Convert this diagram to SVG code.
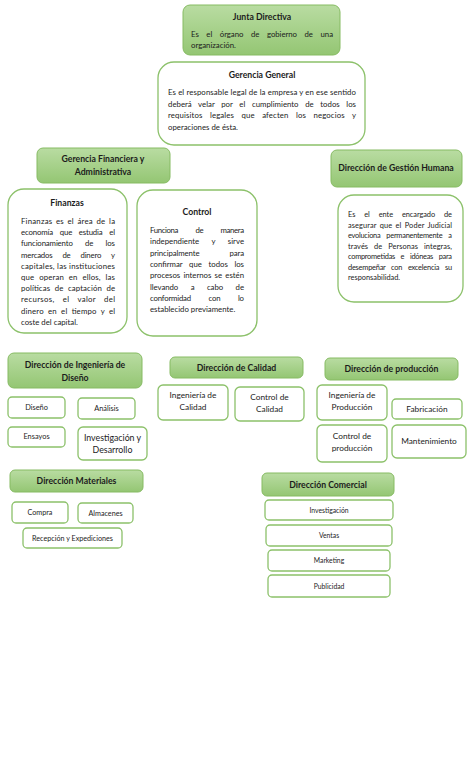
<svg xmlns="http://www.w3.org/2000/svg" width="474" height="780" viewBox="0 0 474 780">
<defs>
<linearGradient id="hg" x1="0" y1="0" x2="0" y2="1">
<stop offset="0" stop-color="#b9dca2"/>
<stop offset="1" stop-color="#94c673"/>
</linearGradient>
<style>
text{font-family:Lato,"Liberation Sans",sans-serif;fill:#1c1c1c;}
.hd{fill:url(#hg);stroke:#86bb63;stroke-width:1;}
.bx{fill:#ffffff;stroke:#8cc16a;stroke-width:1.3;}
.t{font-weight:bold;font-size:8.7px;text-anchor:middle;}
.b{font-size:7.8px;}
.s{font-size:7.4px;}
.sm{font-size:6.8px;text-anchor:middle;}
.sd{font-size:7.4px;text-anchor:middle;}
.sw{font-size:7.2px;text-anchor:middle;}
.md{font-size:8.3px;text-anchor:middle;}
.lg{font-size:8.8px;text-anchor:middle;}
</style>
</defs>
<rect width="474" height="780" fill="#ffffff"/>
<g id="connectors"></g>

<g id="junta">
<rect class="hd" x="183" y="5" width="157" height="50" rx="7"/>
<text class="t" x="262" y="20">Junta Directiva</text>
<text class="b" x="191" y="37" word-spacing="5.7" textLength="142" lengthAdjust="spacing">Es el órgano de gobierno de una</text>
<text class="b" x="191" y="48">organización.</text>
</g>

<g id="gerencia-general">
<rect class="bx" x="158" y="62" width="207" height="83" rx="16"/>
<text class="t" x="262" y="78">Gerencia General</text>
<text class="b" x="168" y="95" textLength="188" lengthAdjust="spacing">Es el responsable legal de la empresa y en ese sentido</text>
<text class="b" x="168" y="106.5" word-spacing="4.6" textLength="188" lengthAdjust="spacing">deberá velar por el cumplimiento de todos los</text>
<text class="b" x="168" y="118" word-spacing="5.3" textLength="188" lengthAdjust="spacing">requisitos legales que afecten los negocios y</text>
<text class="b" x="168" y="129.5">operaciones de ésta.</text>
</g>

<g id="gerencia-financiera">
<rect class="hd" x="37" y="148" width="133" height="35" rx="6"/>
<text class="t" x="103" y="162">Gerencia Financiera y</text>
<text class="t" x="103" y="175">Administrativa</text>
</g>

<g id="finanzas">
<rect class="bx" x="8" y="189" width="119" height="144" rx="16"/>
<text class="t" x="67" y="206">Finanzas</text>
<text class="b" x="21" y="224" word-spacing="1.4" textLength="94" lengthAdjust="spacing">Finanzas es el área de la</text>
<text class="b" x="21" y="235.2" word-spacing="4.7" textLength="94" lengthAdjust="spacing">economía que estudia el</text>
<text class="b" x="21" y="246.4" word-spacing="10.5" textLength="94" lengthAdjust="spacing">funcionamiento de los</text>
<text class="b" x="21" y="257.6" word-spacing="8.2" textLength="94" lengthAdjust="spacing">mercados de dinero y</text>
<text class="b" x="21" y="268.8" textLength="94" lengthAdjust="spacing">capitales, las instituciones</text>
<text class="b" x="21" y="280" word-spacing="2.7" textLength="94" lengthAdjust="spacing">que operan en ellos, las</text>
<text class="b" x="21" y="291.2" word-spacing="2.4" textLength="94" lengthAdjust="spacing">políticas de captación de</text>
<text class="b" x="21" y="302.4" word-spacing="5.9" textLength="94" lengthAdjust="spacing">recursos, el valor del</text>
<text class="b" x="21" y="313.6" word-spacing="2.1" textLength="94" lengthAdjust="spacing">dinero en el tiempo y el</text>
<text class="b" x="21" y="324.8">coste del capital.</text>
</g>

<g id="control">
<rect class="bx" x="137" y="190" width="120" height="146" rx="16"/>
<text class="t" x="197" y="215">Control</text>
<text class="b" x="150" y="233" word-spacing="15.8" textLength="94" lengthAdjust="spacing">Funciona de manera</text>
<text class="b" x="150" y="244.3" word-spacing="10.5" textLength="94" lengthAdjust="spacing">independiente y sirve</text>
<text class="b" x="150" y="255.6" word-spacing="28" textLength="94" lengthAdjust="spacing">principalmente para</text>
<text class="b" x="150" y="266.9" word-spacing="4.7" textLength="94" lengthAdjust="spacing">confirmar que todos los</text>
<text class="b" x="150" y="278.2" word-spacing="1.3" textLength="94" lengthAdjust="spacing">procesos internos se estén</text>
<text class="b" x="150" y="289.5" word-spacing="10.5" textLength="94" lengthAdjust="spacing">llevando a cabo de</text>
<text class="b" x="150" y="300.8" word-spacing="15.8" textLength="94" lengthAdjust="spacing">conformidad con lo</text>
<text class="b" x="150" y="312.1">establecido previamente.</text>
</g>

<g id="gestion-humana">
<rect class="hd" x="331" y="150" width="131" height="37" rx="6"/>
<text class="t" x="396" y="171">Dirección de Gestión Humana</text>
</g>

<g id="gestion-humana-desc">
<rect class="bx" x="338" y="195" width="125" height="107" rx="16"/>
<text class="s" x="348" y="217" word-spacing="7.1" textLength="104" lengthAdjust="spacing">Es el ente encargado de</text>
<text class="s" x="348" y="227.5" word-spacing="1.3" textLength="104" lengthAdjust="spacing">asegurar que el Poder Judicial</text>
<text class="s" x="348" y="238" word-spacing="4.3" textLength="104" lengthAdjust="spacing">evoluciona permanentemente a</text>
<text class="s" x="348" y="248.5" word-spacing="4" textLength="104" lengthAdjust="spacing">través de Personas integras,</text>
<text class="s" x="348" y="259" word-spacing="4" textLength="104" lengthAdjust="spacing">comprometidas e idóneas para</text>
<text class="s" x="348" y="269.5" word-spacing="4" textLength="104" lengthAdjust="spacing">desempeñar con excelencia su</text>
<text class="s" x="348" y="280">responsabilidad.</text>
</g>

<g id="ingenieria-diseno">
<rect class="hd" x="8" y="353" width="134" height="35" rx="6"/>
<text class="t" x="75" y="368">Dirección de Ingeniería de</text>
<text class="t" x="75" y="381">Diseño</text>
</g>
<g id="diseno">
<rect class="bx" x="8" y="397" width="57" height="21" rx="4"/>
<text class="sd" x="36.5" y="410">Diseño</text>
</g>
<g id="analisis">
<rect class="bx" x="78" y="398" width="57" height="21" rx="4"/>
<text class="sd" x="106.5" y="411">Análisis</text>
</g>
<g id="ensayos">
<rect class="bx" x="8" y="427" width="57" height="20" rx="4"/>
<text class="sd" x="36.5" y="439">Ensayos</text>
</g>
<g id="investigacion-desarrollo">
<rect class="bx" x="78" y="427" width="69" height="33" rx="5"/>
<text class="lg" x="112.5" y="440.5">Investigación y</text>
<text class="lg" x="112.5" y="452.5">Desarrollo</text>
</g>

<g id="calidad">
<rect class="hd" x="170" y="357" width="133" height="21" rx="5"/>
<text class="t" x="236.5" y="370.5">Dirección de Calidad</text>
</g>
<g id="ingenieria-calidad">
<rect class="bx" x="158" y="385" width="70" height="35" rx="5"/>
<text class="md" x="193" y="398">Ingeniería de</text>
<text class="md" x="193" y="410">Calidad</text>
</g>
<g id="control-calidad">
<rect class="bx" x="235" y="387" width="69" height="34" rx="5"/>
<text class="md" x="269.5" y="400">Control de</text>
<text class="md" x="269.5" y="412">Calidad</text>
</g>

<g id="produccion">
<rect class="hd" x="325" y="358" width="133" height="22" rx="5"/>
<text class="t" x="391.5" y="372">Dirección de producción</text>
</g>
<g id="ingenieria-produccion">
<rect class="bx" x="317" y="385" width="70" height="35" rx="5"/>
<text class="md" x="352" y="398">Ingeniería de</text>
<text class="md" x="352" y="410">Producción</text>
</g>
<g id="fabricacion">
<rect class="bx" x="392" y="399" width="70" height="20" rx="4"/>
<text class="md" x="427" y="412">Fabricación</text>
</g>
<g id="control-produccion">
<rect class="bx" x="317" y="425" width="70" height="37" rx="5"/>
<text class="md" x="352" y="439">Control de</text>
<text class="md" x="352" y="451">producción</text>
</g>
<g id="mantenimiento">
<rect class="bx" x="392" y="425" width="74" height="33" rx="5"/>
<text class="md" x="429" y="444">Mantenimiento</text>
</g>

<g id="materiales">
<rect class="hd" x="10" y="470" width="133" height="22" rx="5"/>
<text class="t" x="76.5" y="484">Dirección Materiales</text>
</g>
<g id="compra">
<rect class="bx" x="12" y="502" width="56" height="21" rx="4"/>
<text class="sw" x="40" y="515">Compra</text>
</g>
<g id="almacenes">
<rect class="bx" x="78" y="503" width="55" height="20" rx="4"/>
<text class="sw" x="105.5" y="516">Almacenes</text>
</g>
<g id="recepcion">
<rect class="bx" x="23" y="528" width="99" height="20" rx="4"/>
<text class="sw" x="72.5" y="541">Recepción y Expediciones</text>
</g>

<g id="comercial">
<rect class="hd" x="262" y="473" width="132" height="23" rx="5"/>
<text class="t" x="328" y="488">Dirección Comercial</text>
</g>
<g id="investigacion">
<rect class="bx" x="265" y="500" width="128" height="20" rx="4"/>
<text class="sm" x="329" y="513">Investigación</text>
</g>
<g id="ventas">
<rect class="bx" x="266" y="525" width="126" height="21" rx="4"/>
<text class="sm" x="329" y="538">Ventas</text>
</g>
<g id="marketing">
<rect class="bx" x="268" y="550" width="122" height="21" rx="4"/>
<text class="sm" x="329" y="563">Marketing</text>
</g>
<g id="publicidad">
<rect class="bx" x="268" y="575" width="122" height="22" rx="4"/>
<text class="sm" x="329" y="589">Publicidad</text>
</g>
</svg>
